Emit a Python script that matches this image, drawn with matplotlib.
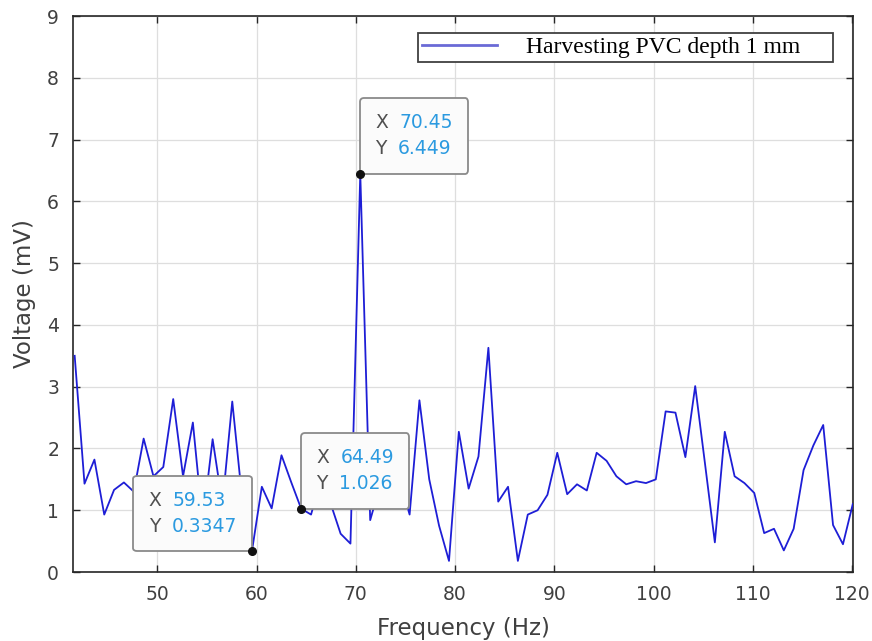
import matplotlib
matplotlib.use("Agg")
import matplotlib.pyplot as plt
from matplotlib.offsetbox import TextArea, HPacker, VPacker, AnnotationBbox

# ---------------- data ----------------
freq_hz = [41.67, 42.66, 43.66, 44.65, 45.64, 46.63, 47.63, 48.62, 49.61, 50.60,
           51.60, 52.59, 53.58, 54.57, 55.57, 56.56, 57.55, 58.54, 59.53, 60.53,
           61.52, 62.51, 63.50, 64.49, 65.49, 66.48, 67.48, 68.47, 69.46, 70.45,
           71.45, 72.44, 73.43, 74.42, 75.42, 76.41, 77.40, 78.39, 79.39, 80.38,
           81.37, 82.36, 83.36, 84.35, 85.34, 86.33, 87.33, 88.32, 89.31, 90.30,
           91.30, 92.29, 93.28, 94.27, 95.27, 96.26, 97.25, 98.24, 99.24, 100.23,
           101.22, 102.21, 103.21, 104.20, 105.19, 106.18, 107.18, 108.17, 109.16, 110.15,
           111.15, 112.14, 113.13, 114.12, 115.12, 116.11, 117.10, 118.09, 119.09, 120.08]

voltage_mv = [3.50, 1.43, 1.82, 0.93, 1.33, 1.45, 1.30, 2.16, 1.55, 1.70,
              2.80, 1.55, 2.42, 0.80, 2.15, 1.10, 2.76, 1.20, 0.3347, 1.38,
              1.03, 1.89, 1.45, 1.026, 0.93, 1.50, 1.10, 0.62, 0.46, 6.449,
              0.84, 1.40, 1.20, 1.50, 0.93, 2.78, 1.50, 0.75, 0.18, 2.27,
              1.35, 1.87, 3.63, 1.14, 1.38, 0.18, 0.93, 1.00, 1.25, 1.93,
              1.26, 1.42, 1.32, 1.93, 1.80, 1.55, 1.42, 1.47, 1.44, 1.50,
              2.60, 2.58, 1.86, 3.01, 1.75, 0.48, 2.27, 1.55, 1.44, 1.28,
              0.63, 0.70, 0.35, 0.70, 1.65, 2.05, 2.38, 0.76, 0.45, 1.10]

series_label = "Harvesting PVC depth 1 mm"

tip_x = [70.45, 59.53, 64.49]
tip_y = [6.449, 0.3347, 1.026]
tip_x_text = ["70.45", "59.53", "64.49"]
tip_y_text = ["6.449", "0.3347", "1.026"]
tip_side = [1, -1, 1]   # +1: box to the right of the point, -1: to the left

x_ticks = [50, 60, 70, 80, 90, 100, 110, 120]
y_ticks = [0, 1, 2, 3, 4, 5, 6, 7, 8, 9]

# ---------------- figure ----------------
plt.rcParams['font.family'] = ['DejaVu Sans']
fig = plt.figure(figsize=(8.72, 6.41), dpi=100)
ax = fig.add_axes([0.0837, 0.1076, 0.8945, 0.8674])

line_color = '#1e1ed6'
ax.plot(freq_hz, voltage_mv, color=line_color, lw=1.3, label=series_label + "     ", zorder=3)

ax.set_xlim(41.5, 120.1)
ax.set_ylim(0, 9)
ax.set_xticks(x_ticks)
ax.set_yticks(y_ticks)

ax.grid(True, color='#dedede', lw=0.9)
ax.set_axisbelow(True)
for s in ax.spines.values():
    s.set_color('#262626')
    s.set_linewidth(1.2)
ax.tick_params(direction='in', top=True, right=True, length=5, width=1.0,
               color='#262626', labelcolor='#404040', labelsize=13.5)
ax.tick_params(axis='x', pad=9)
ax.tick_params(axis='y', pad=10)

ax.set_xlabel("Frequency (Hz)", fontsize=16.5, color='#404040', labelpad=10)
ax.set_ylabel("Voltage (mV)", fontsize=16.5, color='#404040', labelpad=8)

leg = ax.legend(loc='upper right', bbox_to_anchor=(0.974, 0.969), borderaxespad=0,
                prop={'family': 'Liberation Serif', 'size': 17},
                handlelength=3.2, handletextpad=1.2, borderpad=0.15,
                fancybox=False, framealpha=1, edgecolor='#404040')
leg.get_frame().set_linewidth(1.3)
for h in leg.get_lines():
    h.set_color('#6a6ad6')
    h.set_linewidth(2.0)

# ---------------- data tips ----------------
ax.plot(tip_x, tip_y, 'o', color='#111111', ms=5.5, zorder=6)
val_color = '#2b9ae0'
lab_color = '#505050'
pad_frac = 1.1
pad_pts = pad_frac * 10.0
for xv, yv, xs, ys, side in zip(tip_x, tip_y, tip_x_text, tip_y_text, tip_side):
    fs = 13.5
    r1 = HPacker(children=[TextArea("X", textprops=dict(color=lab_color, fontsize=fs)),
                           TextArea(xs, textprops=dict(color=val_color, fontsize=fs))],
                 sep=8, pad=0, align='baseline')
    r2 = HPacker(children=[TextArea("Y", textprops=dict(color=lab_color, fontsize=fs)),
                           TextArea(ys, textprops=dict(color=val_color, fontsize=fs))],
                 sep=8, pad=0, align='baseline')
    vp = VPacker(children=[r1, r2], sep=5, pad=0, align='left')
    al = (0, 0) if side > 0 else (1, 0)
    ab = AnnotationBbox(vp, (xv, yv), xybox=(side * pad_pts, pad_pts), xycoords='data',
                        boxcoords='offset points', box_alignment=al,
                        frameon=True, fontsize=10,
                        bboxprops=dict(boxstyle='round,pad=%.2f,rounding_size=0.25' % pad_frac,
                                       edgecolor='#8a8a8a', facecolor='#fbfbfb', lw=1.3))
    ab.set_zorder(5)
    ax.add_artist(ab)

fig.savefig("out.png", dpi=100)
